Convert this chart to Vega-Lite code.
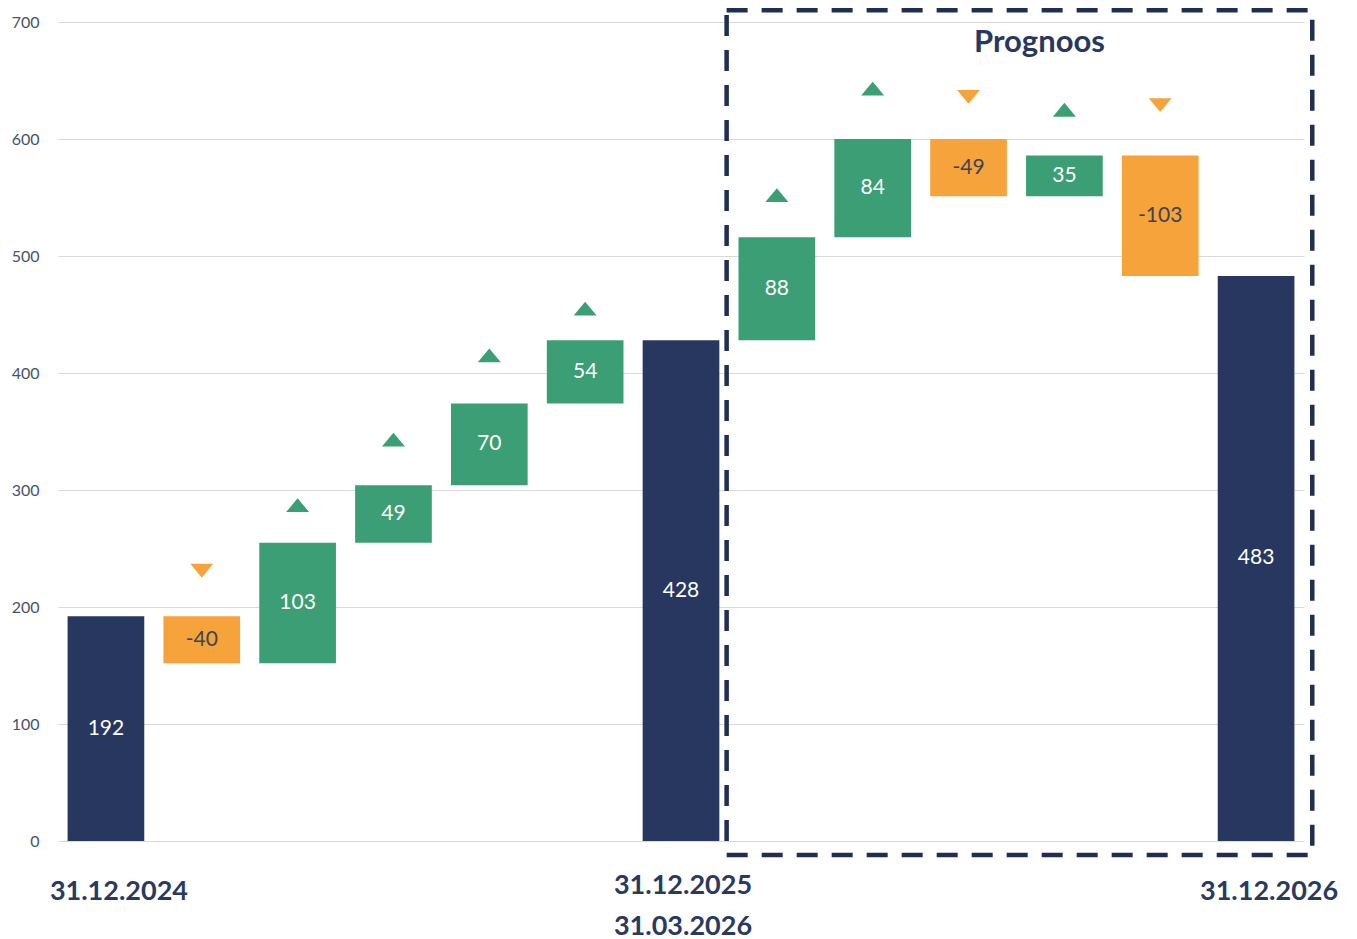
{
  "$schema": "https://vega.github.io/schema/vega-lite/v6.json",
  "width": 1246,
  "height": 819,
  "autosize": {"type": "none"},
  "padding": {"left": 58, "top": 22, "right": 53, "bottom": 98},
  "background": "white",
  "config": {
    "view": {"stroke": null},
    "font": "Lato",
    "axisY": {
      "domain": false,
      "ticks": false,
      "tickSize": 0,
      "labelFont": "Lato",
      "labelFontSize": 16,
      "labelColor": "#44546A",
      "labelPadding": 19,
      "gridColor": "#D9D9D9",
      "gridWidth": 1
    }
  },
  "data": {
    "values": [
      {"cat": "1", "type": "total", "start": 0, "end": 192, "value": 192, "marker": null},
      {"cat": "2", "type": "decrease", "start": 192, "end": 152, "value": -40, "marker": 231},
      {"cat": "3", "type": "increase", "start": 152, "end": 255, "value": 103, "marker": 287},
      {"cat": "4", "type": "increase", "start": 255, "end": 304, "value": 49, "marker": 343},
      {"cat": "5", "type": "increase", "start": 304, "end": 374, "value": 70, "marker": 415},
      {"cat": "6", "type": "increase", "start": 374, "end": 428, "value": 54, "marker": 455},
      {"cat": "7", "type": "total", "start": 0, "end": 428, "value": 428, "marker": null},
      {"cat": "8", "type": "increase", "start": 428, "end": 516, "value": 88, "marker": 552},
      {"cat": "9", "type": "increase", "start": 516, "end": 600, "value": 84, "marker": 643},
      {"cat": "10", "type": "decrease", "start": 600, "end": 551, "value": -49, "marker": 636},
      {"cat": "11", "type": "increase", "start": 551, "end": 586, "value": 35, "marker": 625},
      {"cat": "12", "type": "decrease", "start": 586, "end": 483, "value": -103, "marker": 629},
      {"cat": "13", "type": "total", "start": 0, "end": 483, "value": 483, "marker": null}
    ]
  },
  "encoding": {
    "x": {
      "field": "cat",
      "type": "ordinal",
      "sort": null,
      "scale": {"paddingInner": 0.2, "paddingOuter": 0.1},
      "axis": {
        "title": null,
        "ticks": false,
        "tickSize": 0,
        "domain": false,
        "grid": false,
        "labelAngle": 0,
        "labelFont": "Lato",
        "labelFontSize": 27,
        "labelFontWeight": "bold",
        "labelColor": "#2A3A5F",
        "labelBaseline": "top",
        "labelLineHeight": 41,
        "labelOverlap": false,
        "labelPadding": {"condition": {"test": "datum.value == '7'", "value": 31}, "value": 37},
        "labelOffset": {"condition": {"test": "datum.value == '7'", "value": 2}, "value": 13},
        "labelExpr": "datum.value == '1' ? '31.12.2024' : datum.value == '7' ? ['31.12.2025', '31.03.2026'] : datum.value == '13' ? '31.12.2026' : ''"
      }
    }
  },
  "layer": [
    {
      "mark": {"type": "bar"},
      "encoding": {
        "y": {
          "field": "start",
          "type": "quantitative",
          "scale": {"domain": [0, 700], "nice": false, "zero": false},
          "axis": {"title": null, "values": [0, 100, 200, 300, 400, 500, 600, 700]}
        },
        "y2": {"field": "end"},
        "color": {
          "field": "type",
          "type": "nominal",
          "scale": {"domain": ["total", "increase", "decrease"], "range": ["#28375F", "#3C9E74", "#F5A33A"]},
          "legend": null
        }
      }
    },
    {
      "transform": [
        {"fold": ["start", "end"], "as": ["k", "v"]},
        {"aggregate": [{"op": "mean", "field": "v", "as": "mid"}], "groupby": ["cat", "type", "value"]}
      ],
      "mark": {"type": "text", "fontSize": 21, "font": "Lato", "baseline": "middle", "align": "center"},
      "encoding": {
        "y": {"field": "mid", "type": "quantitative", "title": null},
        "text": {"field": "value", "type": "nominal"},
        "color": {"condition": {"test": "datum.type == 'decrease'", "value": "#3D4456"}, "value": "white"}
      }
    },
    {
      "transform": [{"filter": "datum.marker != null"}],
      "mark": {"type": "point", "filled": true, "opacity": 1, "size": 529},
      "encoding": {
        "y": {"field": "marker", "type": "quantitative", "title": null},
        "shape": {
          "field": "type",
          "type": "nominal",
          "scale": {"domain": ["increase", "decrease"], "range": ["M-1,0.6L0,-0.6L1,0.6Z", "M-1,-0.6L0,0.6L1,-0.6Z"]},
          "legend": null
        },
        "color": {"field": "type", "type": "nominal", "legend": null}
      }
    },
    {
      "data": {"values": [{}]},
      "mark": {"type": "rect", "fill": null, "filled": false, "stroke": "#1F2E52", "strokeWidth": 4.5, "strokeDash": [21, 14], "strokeCap": "butt"},
      "encoding": {
        "x": {"datum": "8", "type": "ordinal", "bandPosition": -0.155},
        "x2": {"datum": "13", "bandPosition": 1.233},
        "y": {"datum": -12, "type": "quantitative", "title": null},
        "y2": {"datum": 710}
      }
    },
    {
      "data": {"values": [{}]},
      "mark": {"type": "text", "text": "Prognoos", "fontSize": 31, "fontWeight": "bold", "font": "Lato", "color": "#28375F", "baseline": "alphabetic", "align": "center"},
      "encoding": {
        "x": {"datum": "11", "type": "ordinal", "bandPosition": 0.175},
        "y": {"datum": 674, "type": "quantitative", "title": null}
      }
    }
  ]
}
